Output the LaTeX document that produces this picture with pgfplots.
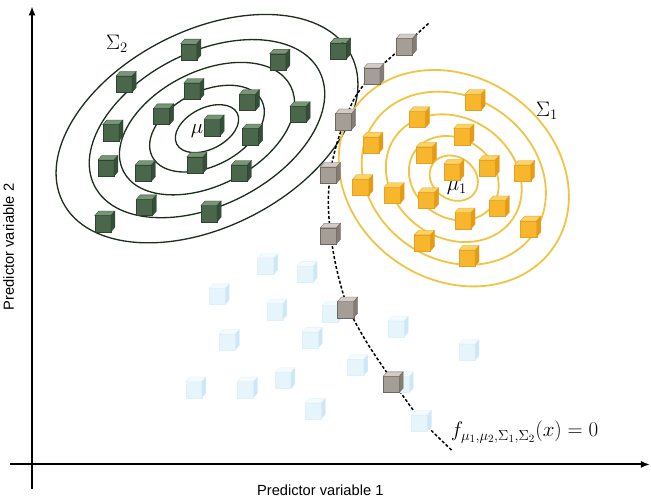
\documentclass[border=0pt]{standalone}
\usepackage{pgfplots}
\pgfplotsset{compat=1.18}
\usepackage{fontspec}
\setmainfont{Liberation Sans}
\usetikzlibrary{arrows.meta}

\definecolor{gFront}{HTML}{4A674C}
\definecolor{gTop}{HTML}{789577}
\definecolor{gSide}{HTML}{344E38}
\definecolor{gEdge}{HTML}{2E4430}
\definecolor{oFront}{HTML}{F8B62E}
\definecolor{oTop}{HTML}{FDD265}
\definecolor{oSide}{HTML}{E69B17}
\definecolor{oEdge}{HTML}{E3A222}
\definecolor{sFront}{HTML}{A59E97}
\definecolor{sTop}{HTML}{D2CCC6}
\definecolor{sSide}{HTML}{857D75}
\definecolor{sEdge}{HTML}{6E675F}
\definecolor{bFront}{HTML}{E6F4FB}
\definecolor{bTop}{HTML}{F4FAFE}
\definecolor{bSide}{HTML}{CDE7F6}
\definecolor{bEdge}{HTML}{E0F0F9}
\definecolor{ringG}{HTML}{1C2E1E}
\definecolor{ringO}{HTML}{F0C445}

% a small box seen from above right: front face, top face, side face
\newcommand{\cubeshape}[4]{%
  \pgfsetlinewidth{0.3pt}\pgfsetstrokecolor{#4}%
  \pgfsetfillcolor{#1}%
  \pgfpathrectanglecorners{\pgfpoint{-10pt}{-11pt}}{\pgfpoint{6pt}{5pt}}%
  \pgfusepath{fill,stroke}%
  \pgfsetfillcolor{#2}%
  \pgfpathmoveto{\pgfpoint{-10pt}{5pt}}%
  \pgfpathlineto{\pgfpoint{6pt}{5pt}}%
  \pgfpathlineto{\pgfpoint{10pt}{9.5pt}}%
  \pgfpathlineto{\pgfpoint{-6pt}{9.5pt}}%
  \pgfpathclose
  \pgfusepath{fill,stroke}%
  \pgfsetfillcolor{#3}%
  \pgfpathmoveto{\pgfpoint{6pt}{-11pt}}%
  \pgfpathlineto{\pgfpoint{10pt}{-6.5pt}}%
  \pgfpathlineto{\pgfpoint{10pt}{9.5pt}}%
  \pgfpathlineto{\pgfpoint{6pt}{5pt}}%
  \pgfpathclose
  \pgfusepath{fill,stroke}%
}
\pgfdeclareplotmark{cubeG}{\cubeshape{gFront}{gTop}{gSide}{gEdge}}
\pgfdeclareplotmark{cubeO}{\cubeshape{oFront}{oTop}{oSide}{oEdge}}
\pgfdeclareplotmark{cubeS}{\cubeshape{sFront}{sTop}{sSide}{sEdge}}
\pgfdeclareplotmark{cubeB}{\cubeshape{bFront}{bTop}{bSide}{bEdge}}

\begin{document}
\begin{tikzpicture}
\begin{axis}[
  x=1pt, y=1pt, scale only axis,
  xmin=0, xmax=651, ymin=0, ymax=499,
  hide axis, clip=false,
]
% unlabelled observations
\addplot[only marks, mark=cubeB] coordinates {
 (273,234) (312,226) (225,204) (282,189) (337,187) (402,172) (235,159)
 (317,161) (362,134) (290,121) (202,112) (253,112) (320,91) (407,117)
 (425,79) (472,149)
};

% class 2 contours
\pgfplotsinvokeforeach{1,0.78,0.58,0.38,0.21}{
  \draw[ringG, line width=1.3pt, rotate around={27:(axis cs:213,367)}]
    (axis cs:213,367) ellipse [x radius=160*#1, y radius=97*#1];
}
% class 1 contours
\pgfplotsinvokeforeach{1,0.8,0.59,0.39,0.21}{
  \draw[ringO, line width=1.8pt, rotate around={-35:(axis cs:457,318)}]
    (axis cs:457,318) ellipse [x radius=120*#1, y radius=100*#1];
}

% decision boundary
\addplot[black, line width=1.5pt, dash pattern=on 3pt off 2pt, smooth] coordinates {
 (432,471) (410,451) (378,422) (360,399) (350,377) (341,351) (335,324)
 (333,294) (335,264) (341,229) (352,191) (372,154) (397,117) (423,81) (455,49)
};

% class 2 observations
\addplot[only marks, mark=cubeG] coordinates {
 (197,446) (285,436) (345,447) (133,414) (200,407) (255,396) (170,382)
 (305,384) (220,371) (258,362) (120,366) (203,334) (152,326) (115,331)
 (247,326) (153,292) (217,286) (112,276)
};
% class 1 observations
\addplot[only marks, mark=cubeO] coordinates {
 (478,396) (423,379) (467,362) (377,354) (430,344) (457,327) (492,331)
 (527,326) (367,312) (398,304) (432,299) (502,291) (468,279) (533,271)
 (428,257) (472,242)
};
% observations on the boundary
\addplot[only marks, mark=cubeS] coordinates {
 (410,451) (378,422) (350,377) (335,324) (335,264) (352,191) (397,117)
};

% labels
\node[font=\fontsize{22}{24}\selectfont] at (axis cs:124,451) {$\Sigma_2$};
\node[font=\fontsize{22}{24}\selectfont] at (axis cs:549,385) {$\Sigma_1$};
\node[font=\fontsize{22}{24}\selectfont] at (axis cs:207,365) {$\mu_2$};
\node[font=\fontsize{22}{24}\selectfont] at (axis cs:460,308) {$\mu_1$};
\node[font=\fontsize{21}{23}\selectfont] at (axis cs:527,67)
  {$f_{\mu_1,\mu_2,\Sigma_1,\Sigma_2}(x)=0$};

% coordinate axes
\draw[line width=2pt, -{Latex[length=9pt,width=7pt]}] (axis cs:40,11) -- (axis cs:40,488);
\draw[line width=2pt, -{Latex[length=9pt,width=7pt]}] (axis cs:18,35) -- (axis cs:651,35);
\node[font=\fontsize{14.5}{16}\selectfont] at (axis cs:325,9) {Predictor variable 1};
\node[font=\fontsize{14.5}{16}\selectfont, rotate=90] at (axis cs:17,250) {Predictor variable 2};
\end{axis}
\end{tikzpicture}
\end{document}
